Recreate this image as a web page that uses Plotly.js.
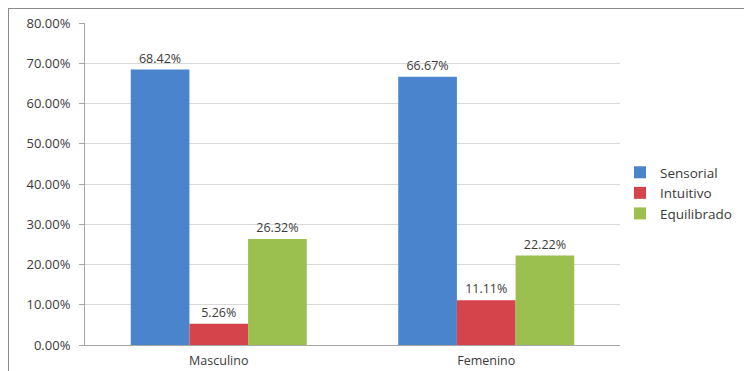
<!DOCTYPE html>
<html>
<head>
<meta charset="utf-8">
<script src="https://cdn.plot.ly/plotly-3.0.1.min.js"></script>
<style>
  html, body { margin: 0; padding: 0; width: 744px; height: 371px; overflow: hidden; background: #fff; }
  #chart { position: absolute; left: 0; top: 0; width: 744px; height: 371px; }
  #frame { position: absolute; left: 8px; top: 8px; width: 800px; height: 400px;
           border: 1.5px solid #8a8a8a; pointer-events: none; }
</style>
</head>
<body>
<div id="chart"></div>
<div id="frame"></div>
<script>
// Learning style by gender
const categories = ['Masculino', 'Femenino'];
const seriesNames = ['Sensorial', 'Intuitivo', 'Equilibrado'];
const sensorial = [0.6842, 0.6667];
const intuitivo = [0.0526, 0.1111];
const equilibrado = [0.2632, 0.2222];
const yTicks = [0, 0.1, 0.2, 0.3, 0.4, 0.5, 0.6, 0.7, 0.8];

const colors = ['#4a84cc', '#d6444b', '#9bc050'];
const values = [sensorial, intuitivo, equilibrado];
const fontFamily = '"Open Sans", "Noto Sans", sans-serif';

const traces = seriesNames.map((name, i) => ({
  type: 'bar',
  name: name,
  x: categories,
  y: values[i],
  marker: { color: colors[i] },
  texttemplate: '%{y:.2%}',
  textposition: 'outside',
  textfont: { family: fontFamily, size: 12.5, color: '#3a3a3a' },
  cliponaxis: false,
  hoverinfo: 'x+y+name'
}));

const layout = {
  width: 744,
  height: 371,
  margin: { l: 85, r: 124, t: 23, b: 26, pad: 0, autoexpand: false },
  paper_bgcolor: 'rgba(0,0,0,0)',
  plot_bgcolor: '#ffffff',
  barmode: 'group',
  bargap: 0.342,
  bargroupgap: 0,
  font: { family: fontFamily, color: '#3a3a3a', size: 12 },
  xaxis: {
    showline: true,
    linecolor: '#a6a6a6',
    linewidth: 1,
    ticks: '',
    tickfont: { size: 12.5, color: '#3a3a3a' },
    ticklabelstandoff: 4,
    showgrid: false
  },
  yaxis: {
    range: [0, 0.8],
    tickvals: yTicks,
    tickformat: '.2%',
    showline: true,
    linecolor: '#a6a6a6',
    linewidth: 1,
    ticks: 'outside',
    ticklen: 5,
    tickcolor: '#a6a6a6',
    showgrid: true,
    gridcolor: '#d9d9d9',
    zeroline: false,
    tickfont: { size: 13, color: '#3a3a3a' },
    ticklabelstandoff: 6
  },
  legend: {
    x: 1.0,
    y: 0.472,
    xanchor: 'left',
    yanchor: 'middle',
    font: { size: 13.5, color: '#3a3a3a' },
    itemwidth: 30,
    bgcolor: 'rgba(0,0,0,0)'
  },
  showlegend: true
};

Plotly.newPlot('chart', traces, layout, { displayModeBar: false, staticPlot: true });
</script>
</body>
</html>
